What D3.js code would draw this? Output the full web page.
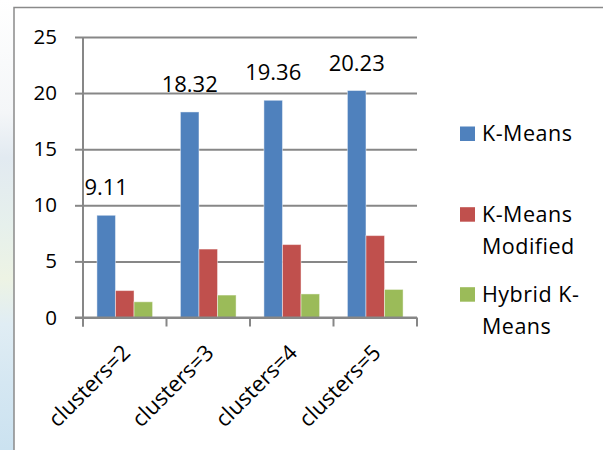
<!DOCTYPE html>
<html>
<head>
<meta charset="utf-8">
<script src="https://cdn.jsdelivr.net/npm/d3@7/dist/d3.min.js"></script>
<style>
  html, body { margin: 0; padding: 0; background: #ffffff; }
  svg { display: block; }
  text { font-family: "Open Sans", "DejaVu Sans", sans-serif; fill: #000; }
</style>
</head>
<body>
<svg id="chart" width="603" height="450"></svg>
<script>
// Chart data
const categories = ["clusters=2", "clusters=3", "clusters=4", "clusters=5"];
const seriesNames = ["K-Means", "K-Means Modified", "Hybrid K-Means"];
const kMeans = [9.11, 18.32, 19.36, 20.23];
const kMeansModified = [2.4, 6.1, 6.5, 7.3];
const hybridKMeans = [1.4, 2.0, 2.1, 2.5];
const yTicks = [0, 5, 10, 15, 20, 25];
const legendLines = [["K-Means"], ["K-Means", "Modified"], ["Hybrid K-", "Means"]];
const colors = ["#4F81BD", "#C0504D", "#9BBB59"];

const seriesValues = [kMeans, kMeansModified, hybridKMeans];

const svg = d3.select("#chart");

// Soft backdrop strip on the left, outside the chart frame
const defs = svg.append("defs");
const grad = defs.append("linearGradient")
  .attr("id", "sideGrad").attr("x1", 0).attr("y1", 0).attr("x2", 0).attr("y2", 1);
[[0, "#ffffff"], [0.25, "#f4f6f8"], [0.35, "#e2eaf1"], [0.5, "#e6f0ec"],
 [0.62, "#edf3e4"], [0.72, "#e0edf4"], [0.85, "#d5e7f2"], [1, "#cbe2f0"]]
  .forEach(([o, c]) => grad.append("stop").attr("offset", o).attr("stop-color", c));
svg.append("rect").attr("x", 0).attr("y", 0).attr("width", 14).attr("height", 450)
  .attr("fill", "url(#sideGrad)");

// Chart frame
svg.append("rect").attr("x", 14).attr("y", 7.5).attr("width", 600).attr("height", 460)
  .attr("fill", "#ffffff").attr("stroke", "#8a8a8a").attr("stroke-width", 1.5);

// Scales
const x0 = d3.scaleBand().domain(categories).range([83, 417]).paddingInner(0).paddingOuter(0);
const x1 = d3.scaleBand().domain(seriesNames).range([0, x0.bandwidth()])
  .paddingInner(0).paddingOuter(0.75);
const y = d3.scaleLinear().domain([0, 25]).range([317.5, 37]);

const gridColor = "#878787";

// Gridlines with small ticks to the left of the axis
const yAxis = d3.axisLeft(y).tickValues(yTicks).tickSize(8).tickPadding(18).tickFormat(d3.format("d"));
const gy = svg.append("g").attr("transform", "translate(83,0)").call(yAxis);
gy.select(".domain").remove();
gy.selectAll(".tick line").attr("stroke", gridColor).attr("stroke-width", 2);
gy.selectAll(".tick").append("line")
  .attr("x1", 0).attr("x2", 417 - 83)
  .attr("stroke", gridColor).attr("stroke-width", 2);
gy.selectAll(".tick text")
  .attr("font-size", 20.5).attr("fill", "#000")
  .attr("font-family", "'Open Sans', sans-serif");

// Bars
const groups = svg.append("g").selectAll("g")
  .data(categories).join("g")
  .attr("transform", d => `translate(${x0(d)},0)`);

groups.selectAll("rect")
  .data((d, i) => seriesNames.map((s, j) => ({ s, j, v: seriesValues[j][i] })))
  .join("rect")
  .attr("x", d => x1(d.s))
  .attr("y", d => y(d.v))
  .attr("width", x1.bandwidth())
  .attr("height", d => y(0) - y(d.v))
  .attr("fill", d => colors[d.j])
  .attr("stroke", "rgba(255,255,255,0.45)")
  .attr("stroke-width", 1);

// Value labels above the K-Means bars
svg.append("g").selectAll("text")
  .data(categories).join("text")
  .attr("x", (d, i) => x0(d) + x1(seriesNames[0]) + x1.bandwidth() / 2)
  .attr("y", (d, i) => y(kMeans[i]) - 20)
  .attr("text-anchor", "middle")
  .attr("font-size", 22)
  .text((d, i) => kMeans[i].toFixed(2));

// Vertical axis line
svg.append("line")
  .attr("x1", 83).attr("x2", 83).attr("y1", y(25)).attr("y2", y(0) + 9)
  .attr("stroke", gridColor).attr("stroke-width", 2);

// Category axis with boundary ticks
const boundaries = categories.map(c => x0(c)).concat([x0.range()[1]]);
svg.append("line")
  .attr("x1", 75).attr("x2", 417).attr("y1", y(0)).attr("y2", y(0))
  .attr("stroke", gridColor).attr("stroke-width", 2);
svg.append("g").selectAll("line")
  .data(boundaries).join("line")
  .attr("x1", d => d).attr("x2", d => d)
  .attr("y1", y(0)).attr("y2", y(0) + 9)
  .attr("stroke", gridColor).attr("stroke-width", 2);

// Rotated category labels
svg.append("g").selectAll("text")
  .data(categories).join("text")
  .attr("transform", d => `translate(${x0(d) + x0.bandwidth() / 2 + 7},354) rotate(-45)`)
  .attr("text-anchor", "end")
  .attr("font-size", 22)
  .text(d => d);

// Legend
const legendTop = [141, 221.7, 301.7];
const legend = svg.append("g").selectAll("g")
  .data(seriesNames).join("g");
legend.append("rect")
  .attr("x", 460).attr("y", (d, i) => legendTop[i] - 14.5)
  .attr("width", 15).attr("height", 14.5)
  .attr("fill", (d, i) => colors[i]);
legend.each(function (d, i) {
  const t = d3.select(this).append("text")
    .attr("x", 482).attr("y", legendTop[i])
    .attr("font-size", 21.5)
    .attr("letter-spacing", 0.5);
  legendLines[i].forEach((line, k) => {
    t.append("tspan").attr("x", 482).attr("y", legendTop[i] + k * 32.3).text(line);
  });
});
</script>
</body>
</html>
